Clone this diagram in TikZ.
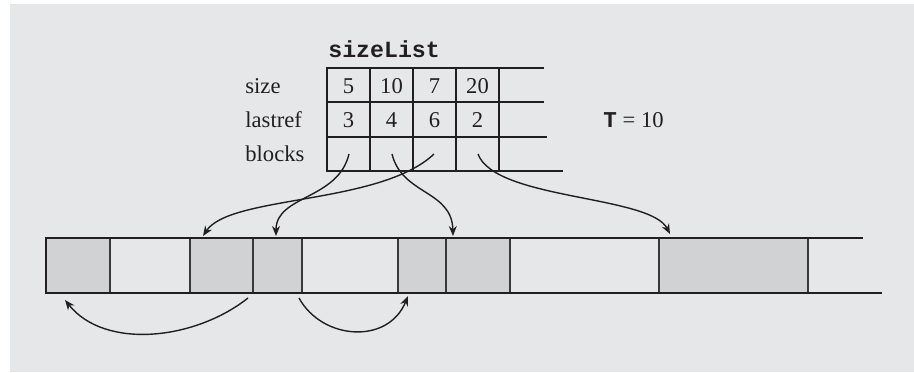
\documentclass[tikz,border=0pt]{standalone}
\usepackage{fontspec}
\setmainfont{Liberation Serif}
\setmonofont{Liberation Mono}
\usetikzlibrary{arrows.meta}
\definecolor{bgc}{HTML}{E6E7E8}
\definecolor{cellgray}{HTML}{D1D2D4}
\definecolor{ink}{HTML}{231F20}
\definecolor{divider}{HTML}{3A3839}
\tikzset{
  lbl/.style={anchor=base west, inner sep=0pt, font=\fontsize{11.3}{13}\selectfont, text=ink},
  num/.style={anchor=base, inner sep=0pt, font=\fontsize{11.3}{13}\selectfont, text=ink},
  ttl/.style={anchor=base west, inner sep=0pt, font=\fontsize{11.6}{13}\selectfont\ttfamily\bfseries, text=ink},
  thickln/.style={draw=ink, line width=1pt},
  thinln/.style={draw=ink, line width=0.55pt},
  divln/.style={draw=divider, line width=0.65pt},
  link/.style={draw=ink, line width=0.7pt, -{Stealth[length=5pt,width=4pt]}},
}
\begin{document}
\begin{tikzpicture}[x=0.5pt,y=-0.5pt]
\useasboundingbox (0,0) rectangle (914,372);
\fill[bgc] (10,4) rectangle (914,372);

% title and labels
\node[ttl] (title) at (328,57) {sizeList};
\node[lbl] (lsize) at (245,93) {size};
\node[lbl] (llast) at (245,127) {lastref};
\node[lbl] (lblocks) at (245,161) {blocks};
\node[lbl] (tval) at (603,127) {{\ttfamily\bfseries T} = 10};

% table
\draw[thinln] (327,102) -- (544,102);
\draw[thinln] (327,137) -- (547,137);
\foreach \x in {370,413,456,499} \draw[thinln] (\x,68) -- (\x,171);
\draw[thickln] (544,68) -- (327,68) -- (327,171) -- (563,171);

% numbers
\node[num] (s1) at (348.5,93) {5};
\node[num] (s2) at (391.5,93) {10};
\node[num] (s3) at (434.5,93) {7};
\node[num] (s4) at (477.5,93) {20};
\node[num] (r1) at (348.5,127) {3};
\node[num] (r2) at (391.5,127) {4};
\node[num] (r3) at (434.5,127) {6};
\node[num] (r4) at (477.5,127) {2};

% memory bar
\foreach \a/\b in {46/110,190/253,253/302,398/446,446/510,659/808}
  \fill[cellgray] (\a,238) rectangle (\b,293);
\foreach \x in {110,190,253,302,398,446,510,659,808}
  \draw[divln] (\x,238) -- (\x,293);
\draw[thickln] (863,238) -- (46,238) -- (46,293) -- (882,293);

% connector end points
\coordinate (b1) at (349,154);
\coordinate (b2) at (392,154);
\coordinate (b3) at (434,154);
\coordinate (b4) at (478,154);
\coordinate (m1) at (276,236);
\coordinate (m2) at (453,236);
\coordinate (m3) at (203,236);
\coordinate (m4) at (670,234);
\coordinate (u1) at (248,298);
\coordinate (v1) at (65,300);
\coordinate (u2) at (299,298);
\coordinate (v2) at (408,296);

\draw[link] (b1) .. controls (338,200) and (276,195) .. (m1);
\draw[link] (b2) .. controls (402,195) and (452,190) .. (m2);
\draw[link] (b3) .. controls (380,205) and (230,195) .. (m3);
\draw[link] (b4) .. controls (495,200) and (650,195) .. (m4);
\draw[link] (u1) .. controls (195,340) and (105,350) .. (v1);
\draw[link] (u2) .. controls (322,340) and (388,345) .. (v2);
\end{tikzpicture}
\end{document}
